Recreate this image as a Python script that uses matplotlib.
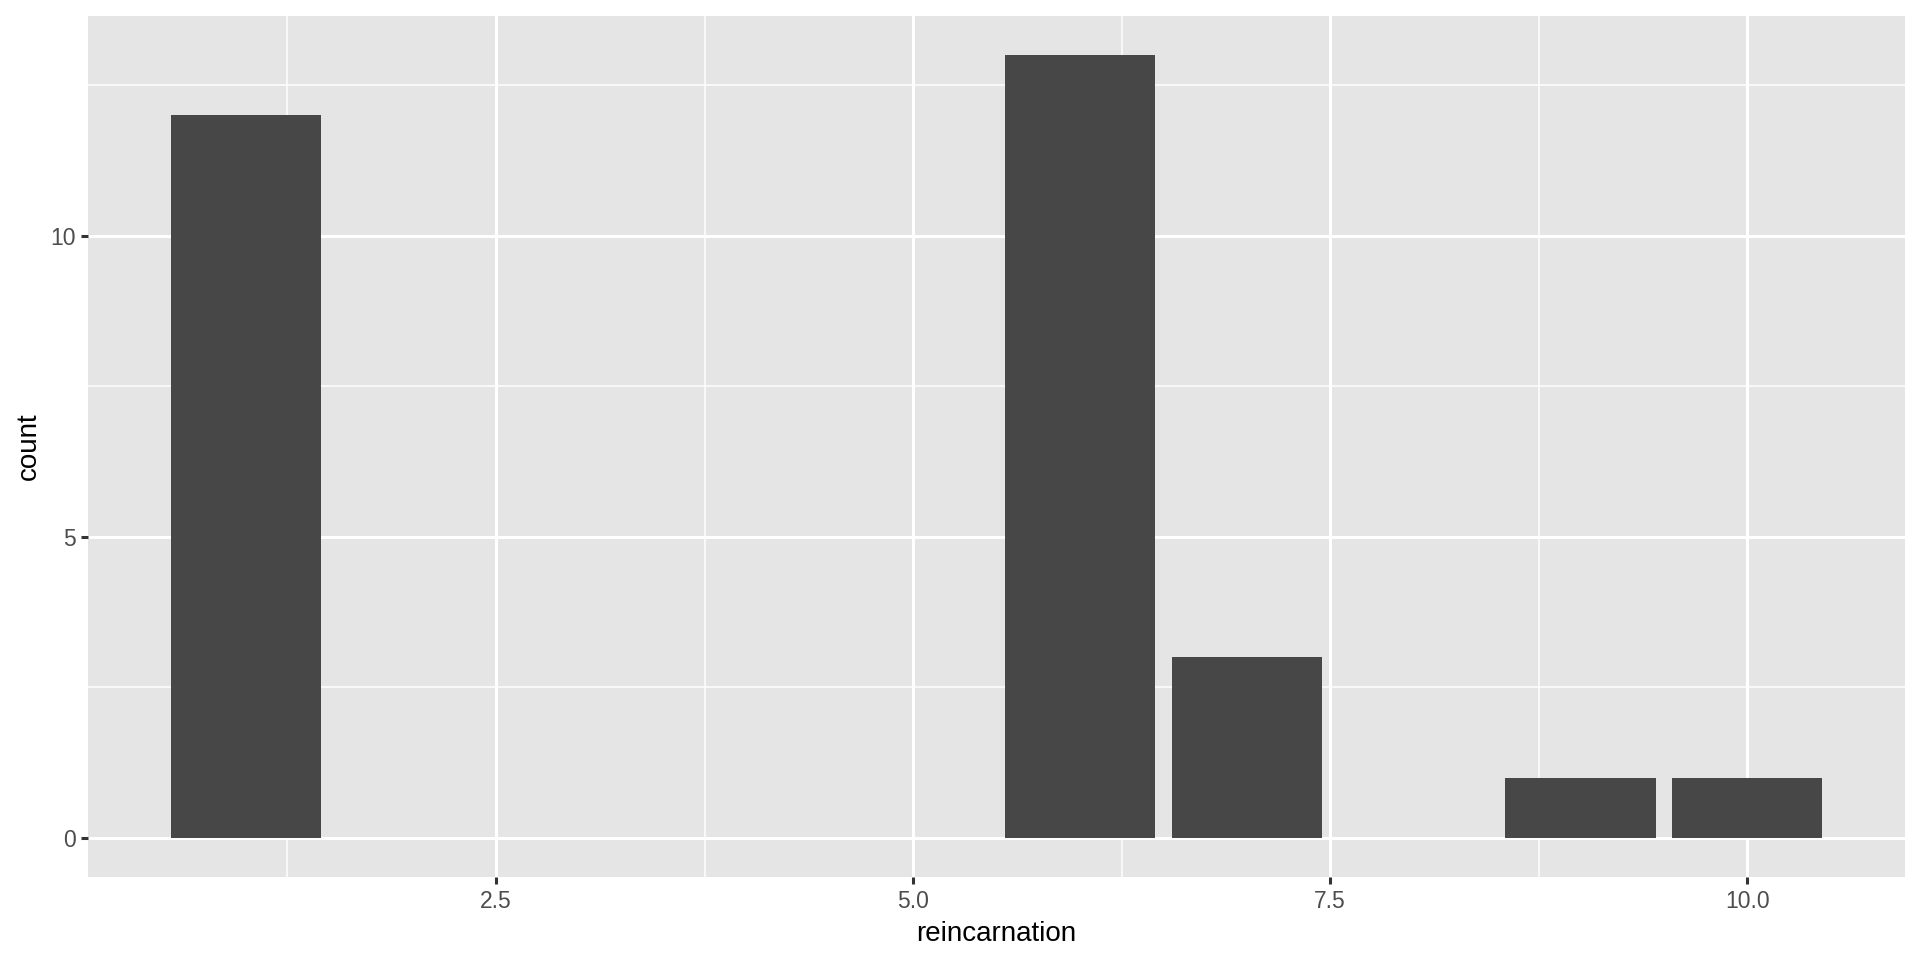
import matplotlib
matplotlib.use("Agg")
import matplotlib.pyplot as plt
from matplotlib.ticker import FixedLocator

reincarnation = [1, 6, 7, 9, 10]
count = [12, 13, 3, 1, 1]
x_ticks = [2.5, 5.0, 7.5, 10.0]
x_tick_labels = ["2.5", "5.0", "7.5", "10.0"]
y_ticks = [0, 5, 10]
y_tick_labels = ["0", "5", "10"]

plt.rcParams['font.family'] = ['Liberation Sans', 'DejaVu Sans']

fig = plt.figure(figsize=(19.2, 9.6), dpi=100)
ax = fig.add_axes([88/1920, 1 - 877/960, (1905 - 88)/1920, (877 - 16)/960])
ax.set_facecolor('#E5E5E5')

ax.bar(reincarnation, count, width=0.9, color='#474747', zorder=3)

xmin, xmax = 0.55, 10.45
pad = (xmax - xmin) * 0.05
ax.set_xlim(xmin - pad, xmax + pad)
ymax = max(count)
ax.set_ylim(-ymax * 0.05, ymax * 1.05)

ax.xaxis.set_major_locator(FixedLocator(x_ticks))
ax.set_xticklabels(x_tick_labels)
ax.yaxis.set_major_locator(FixedLocator(y_ticks))
ax.set_yticklabels(y_tick_labels)
ax.xaxis.set_minor_locator(FixedLocator([1.25, 3.75, 6.25, 8.75]))
ax.yaxis.set_minor_locator(FixedLocator([2.5, 7.5, 12.5]))

ax.grid(which='major', color='white', linewidth=2.2, zorder=1)
ax.grid(which='minor', color='white', linewidth=1.1, zorder=1)
ax.set_axisbelow(True)

for s in ax.spines.values():
    s.set_visible(False)

ax.tick_params(which='major', length=5, width=2.2, color='#333333',
               labelsize=16.5, labelcolor='#4D4D4D', pad=4)
ax.tick_params(which='minor', length=0)

ax.set_xlabel('reincarnation', fontsize=20, color='black', labelpad=6)
ax.set_ylabel('count', fontsize=20, color='black', labelpad=6)

fig.savefig('out.png', dpi=100, facecolor='white')
